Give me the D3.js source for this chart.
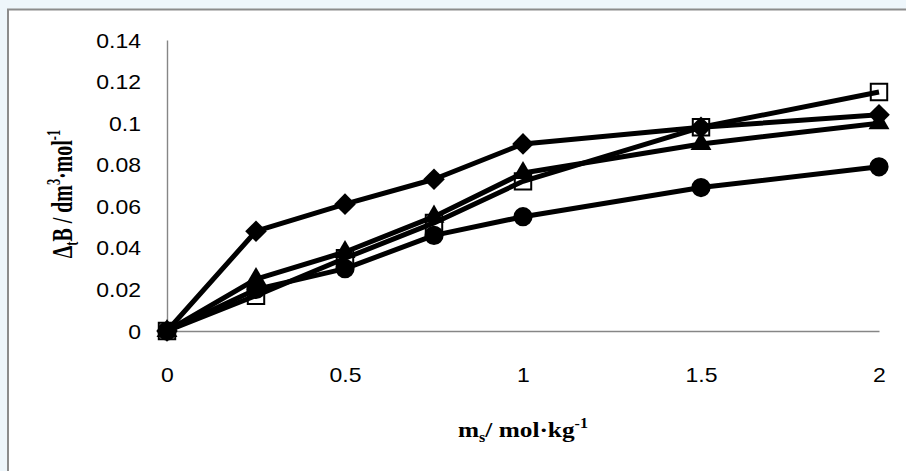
<!DOCTYPE html>
<html>
<head>
<meta charset="utf-8">
<script src="https://cdn.jsdelivr.net/npm/d3@7"></script>
<style>
  html, body { margin: 0; padding: 0; background: #eef6fb; }
  svg { display: block; }
</style>
</head>
<body>
<div id="chart"></div>
<script>
// Delta_t B against salt molality, four series with Excel-style markers.
// The source picture was stretched a little sideways, so text gets a scaleX.

const WIDTH = 906;
const HEIGHT = 471;
const MARGIN = { top: 40, right: 27, bottom: 140, left: 167 };
const STRETCH = 1.15;

const PALETTE = {
  ink: "#000000",
  axis: "#868686",
  frame: "#8c8c8c",
  paper: "#ffffff",
};

const molality = [0, 0.25, 0.5, 0.75, 1, 1.5, 2];

const squareSeries = [0, 0.017, 0.035, 0.052, 0.072, 0.098, 0.115];
const triangleSeries = [0, 0.025, 0.038, 0.055, 0.076, 0.090, 0.100];
const circleSeries = [0, 0.020, 0.030, 0.046, 0.055, 0.069, 0.079];
const diamondSeries = [0, 0.048, 0.061, 0.073, 0.090, 0.098, 0.104];

const xTicks = [0, 0.5, 1, 1.5, 2];
const yTicks = [0, 0.02, 0.04, 0.06, 0.08, 0.1, 0.12, 0.14];

const series = [
  { name: "square", values: squareSeries },
  { name: "triangle", values: triangleSeries },
  { name: "circle", values: circleSeries },
  { name: "diamond", values: diamondSeries },
];

const d3 = window.d3;

const x = d3.scaleLinear().domain([0, 2]).range([MARGIN.left, WIDTH - MARGIN.right]);
const y = d3.scaleLinear().domain([0, 0.14]).range([HEIGHT - MARGIN.bottom, MARGIN.top]);

const svg = d3
  .select("#chart")
  .append("svg")
  .attr("width", WIDTH)
  .attr("height", HEIGHT)
  .attr("viewBox", [0, 0, WIDTH, HEIGHT]);

// chart area frame, runs off the right and bottom edge
svg
  .append("rect")
  .attr("x", 8)
  .attr("y", 9.5)
  .attr("width", WIDTH + 20)
  .attr("height", HEIGHT + 20)
  .attr("fill", PALETTE.paper)
  .attr("stroke", PALETTE.frame)
  .attr("stroke-width", 2);

const tickFont = "'Liberation Sans', Arial, sans-serif";

svg
  .append("g")
  .attr("transform", `translate(${MARGIN.left},0)`)
  .call(d3.axisLeft(y).tickValues(yTicks).tickSize(0).tickFormat(d3.format("~g")))
  .call((g) => g.select(".domain").attr("stroke", PALETTE.axis).attr("stroke-width", 1.4))
  .call((g) =>
    g
      .selectAll(".tick text")
      .attr("x", -26 / STRETCH)
      .attr("dy", "0.35em")
      .attr("transform", `scale(${STRETCH},1)`)
      .attr("fill", PALETTE.ink)
      .style("font-family", tickFont)
      .style("font-size", "20px")
  );

svg
  .append("g")
  .attr("transform", `translate(0,${y(0)})`)
  .call(d3.axisBottom(x).tickValues(xTicks).tickSize(0).tickFormat(d3.format("~g")))
  .call((g) => g.select(".domain").attr("stroke", PALETTE.axis).attr("stroke-width", 1.4))
  .call((g) =>
    g
      .selectAll(".tick text")
      .attr("y", 51)
      .attr("dy", 0)
      .attr("transform", `scale(${STRETCH},1)`)
      .attr("fill", PALETTE.ink)
      .style("font-family", tickFont)
      .style("font-size", "20px")
  );

const line = d3
  .line()
  .x((d, i) => x(molality[i]))
  .y((d) => y(d));

const markerPath = {
  square: d3.symbol(d3.symbolSquare, 270)(),
  triangle: d3.symbol(d3.symbolTriangle, 190)(),
  circle: d3.symbol(d3.symbolCircle, 290)(),
  diamond: d3.symbol(d3.symbolSquare, 235)(),
};

series.forEach((s) => {
  const group = svg.append("g").attr("class", `series ${s.name}`);

  group
    .selectAll("path.marker")
    .data(s.values)
    .join("path")
    .attr("class", "marker")
    .attr("d", markerPath[s.name])
    .attr("transform", (d, i) =>
      `translate(${x(molality[i])},${y(d)})` + (s.name === "diamond" ? " rotate(45)" : "")
    )
    .attr("fill", s.name === "square" ? PALETTE.paper : PALETTE.ink)
    .attr("stroke", PALETTE.ink)
    .attr("stroke-width", s.name === "square" ? 2 : 0);

  group
    .append("path")
    .datum(s.values)
    .attr("d", line)
    .attr("fill", "none")
    .attr("stroke", PALETTE.ink)
    .attr("stroke-width", 5)
    .attr("stroke-linejoin", "round");
});

const titleFont = "'Liberation Serif', 'Times New Roman', serif";

const xTitle = svg
  .append("text")
  .attr("transform", `translate(${x(1)},437) scale(${STRETCH},1)`)
  .attr("text-anchor", "middle")
  .style("font-family", titleFont)
  .style("font-weight", "bold")
  .style("font-size", "22px")
  .attr("fill", PALETTE.ink);
xTitle.append("tspan").text("m");
xTitle.append("tspan").attr("dy", 5).style("font-size", "14px").text("s");
xTitle.append("tspan").attr("dy", -5).text("/ mol·kg");
xTitle.append("tspan").attr("dy", -9).style("font-size", "14px").text("-1");

const yTitle = svg
  .append("text")
  .attr("transform", `translate(72,194) scale(1.2,0.83) rotate(-90)`)
  .attr("text-anchor", "middle")
  .style("font-family", titleFont)
  .style("font-weight", "bold")
  .style("font-size", "24px")
  .attr("fill", PALETTE.ink);
yTitle.append("tspan").text("Δ");
yTitle.append("tspan").attr("dy", 5).style("font-size", "15px").text("t");
yTitle.append("tspan").attr("dy", -5).text("B / dm");
yTitle.append("tspan").attr("dy", -10).style("font-size", "15px").text("3");
yTitle.append("tspan").attr("dy", 10).text("·mol");
yTitle.append("tspan").attr("dy", -10).style("font-size", "15px").text("-1");
</script>
</body>
</html>
